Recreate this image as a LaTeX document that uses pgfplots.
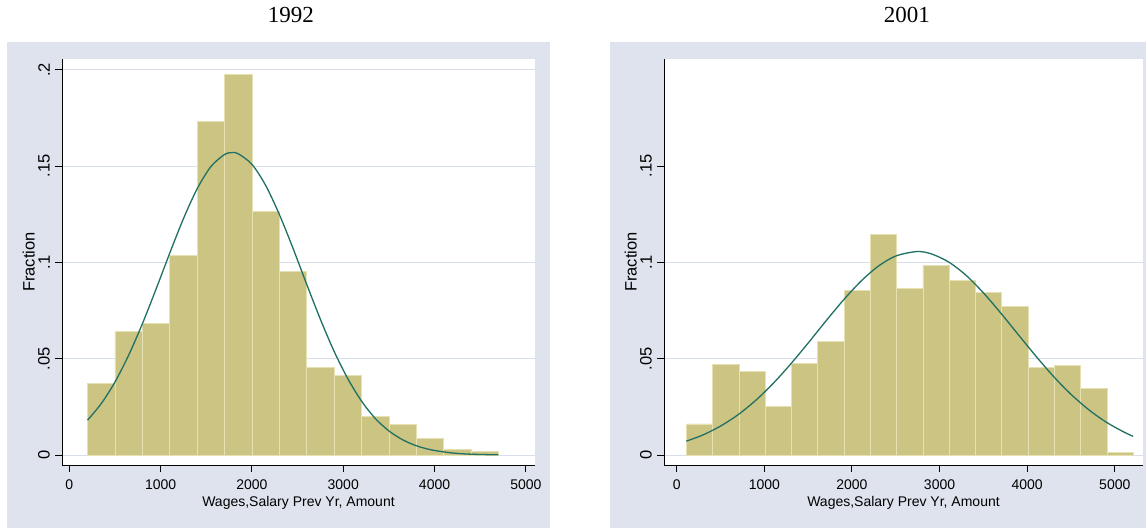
\documentclass[border=0pt]{standalone}
\usepackage{fontspec}
\usepackage{pgfplots}
\pgfplotsset{compat=1.18}
\setmainfont{Liberation Serif}
\newfontfamily\arialf{Liberation Sans}
\definecolor{panelgray}{RGB}{222,227,238}
\definecolor{gridc}{RGB}{216,222,236}
\definecolor{barfill}{RGB}{203,196,130}
\definecolor{baredge}{RGB}{229,225,178}
\definecolor{curvec}{RGB}{32,112,100}
\pgfplotsset{
  statastyle/.style={
    scale only axis, height=406pt,
    ymin=-0.0052, ymax=0.2056,
    axis x line=bottom, axis y line=left,
    axis line style={-, black, line width=0.9pt},
    axis background/.style={fill=white},
    tick align=outside, major tick length=7pt,
    every tick/.style={black, line width=0.9pt},
    xtick={0,1000,2000,3000,4000,5000},
    xticklabels={0,1000,2000,3000,4000,5000},
    xticklabel style={font=\arialf\fontsize{14}{16}\selectfont, anchor=north, inner sep=0pt},
    xticklabel shift=8pt,
    yticklabel style={font=\arialf\fontsize{16.5}{18}\selectfont, rotate=90, anchor=south, inner sep=0pt},
    yticklabel shift=5pt,
    ymajorgrids, major grid style={gridc, line width=0.9pt},
    every axis x label/.style={at={(rel axis cs:0.5,0)}, anchor=base, yshift=-42pt, inner sep=0pt, font=\arialf\fontsize{14}{16}\selectfont},
    every axis y label/.style={at={(rel axis cs:0,0.5)}, xshift=-27pt, rotate=90, anchor=south, inner sep=0pt, font=\arialf\fontsize{16.5}{18}\selectfont},
    xlabel={Wages,Salary Prev Yr, Amount},
    ylabel={Fraction},
    clip=false,
  },
  barsty/.style={ybar interval, fill=barfill, draw=baredge, line width=0.8pt},
  curvesty/.style={curvec, line width=1.3pt, smooth, no marks},
}
\begin{document}
\begin{tikzpicture}[x=1pt,y=1pt]
\useasboundingbox (0,0) rectangle (1146,529);
\fill[panelgray] (7,1) rectangle (550,487);
\fill[panelgray] (610,1) rectangle (1146,487);
\begin{axis}[statastyle, at={(62pt,64pt)}, anchor=south west,
  width=473pt, xmin=-80, xmax=5100,
  ytick={0,0.05,0.1,0.15,0.2}, yticklabels={0,.05,.1,.15,.2},
  title={1992}, title style={at={(rel axis cs:0.484,1)}, anchor=base, yshift=30pt, inner sep=0pt, font=\fontsize{23}{26}\selectfont}]
\addplot[barsty] coordinates {(200,0.0372)(500,0.0640)(800,0.0684)(1100,0.1038)(1400,0.1734)(1700,0.1975)(2000,0.1263)(2300,0.0952)(2600,0.0455)(2900,0.0412)(3200,0.0202)(3500,0.0159)(3800,0.0087)(4100,0.0030)(4400,0.0016)(4700,0)};
\addplot[curvesty] coordinates {(200,0.0181)(350,0.0267)(500,0.0379)(650,0.0518)(800,0.0681)(950,0.0861)(1100,0.1048)(1250,0.1227)(1400,0.1382)(1550,0.1497)(1700,0.1560)(1785,0.1570)(1850,0.1564)(2000,0.1509)(2150,0.1400)(2300,0.1249)(2450,0.1073)(2600,0.0886)(2750,0.0704)(2900,0.0538)(3050,0.0396)(3200,0.0280)(3350,0.0190)(3500,0.0125)(3650,0.0079)(3800,0.0048)(3950,0.0028)(4100,0.0016)(4250,0.0008)(4400,0.0004)(4550,0.0002)(4700,0.0001)};
\end{axis}
\begin{axis}[statastyle, at={(664pt,64pt)}, anchor=south west,
  width=479pt, xmin=-145, xmax=5322,
  ytick={0,0.05,0.1}, yticklabels={0,.05,.1},
  extra y ticks={0.15}, extra y tick labels={.15},
  extra y tick style={grid=none},
  title={2001}, title style={at={(rel axis cs:0.507,1)}, anchor=base, yshift=30pt, inner sep=0pt, font=\fontsize{23}{26}\selectfont}]
\addplot[barsty] coordinates {(110,0.0161)(410,0.0471)(710,0.0436)(1010,0.0254)(1310,0.0476)(1610,0.0590)(1910,0.0852)(2210,0.1146)(2510,0.0866)(2810,0.0983)(3110,0.0905)(3410,0.0845)(3710,0.0770)(4010,0.0455)(4310,0.0466)(4610,0.0346)(4910,0.0012)(5210,0)};
\addplot[curvesty] coordinates {(110,0.0072)(300,0.0104)(500,0.0150)(700,0.0209)(900,0.0283)(1100,0.0371)(1300,0.0472)(1500,0.0581)(1700,0.0694)(1900,0.0803)(2100,0.0901)(2300,0.0980)(2500,0.1033)(2738,0.1056)(2900,0.1045)(3100,0.1003)(3300,0.0934)(3500,0.0842)(3700,0.0736)(3900,0.0624)(4100,0.0513)(4300,0.0408)(4500,0.0315)(4700,0.0236)(4900,0.0171)(5100,0.0120)(5210,0.0097)};
\end{axis}
\end{tikzpicture}
\end{document}
